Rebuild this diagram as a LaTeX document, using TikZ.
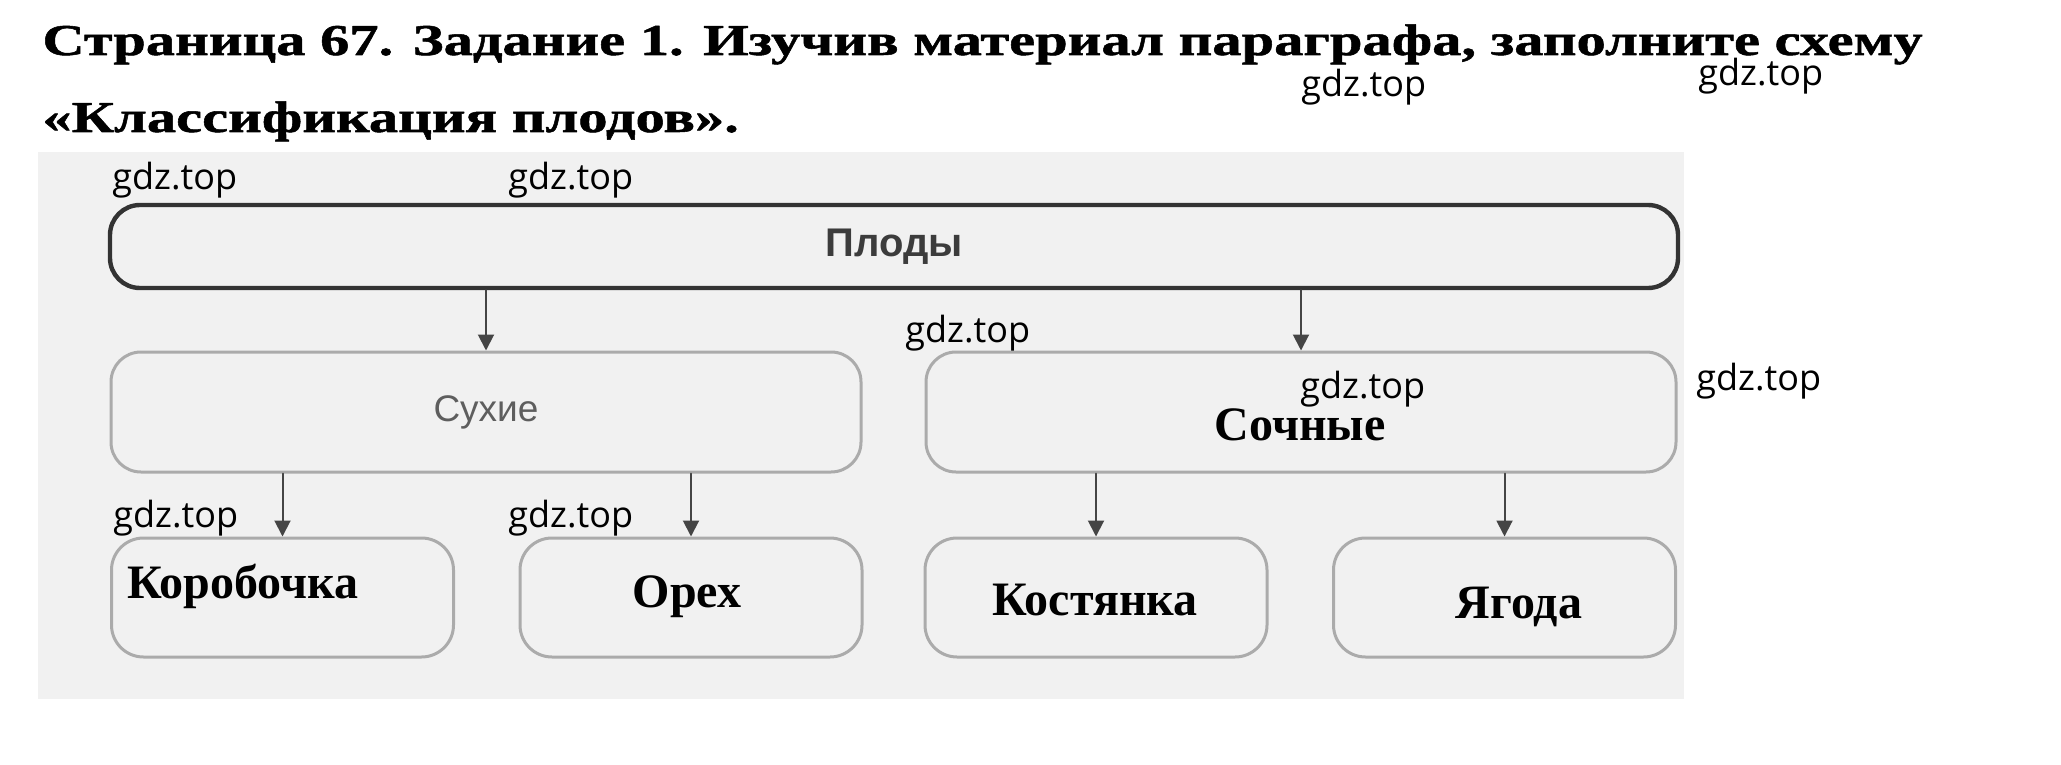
\documentclass[tikz,border=0pt]{standalone}
\usepackage{fontspec}
\setmainfont{Liberation Serif}
\setsansfont{Liberation Sans}
\newfontfamily\titlefont[FakeStretch=1.33, FakeBold=1.2]{Liberation Serif}
\newfontfamily\wmfont{Open Sans}
\usetikzlibrary{arrows.meta}
\definecolor{panelgray}{HTML}{F1F1F1}
\definecolor{boxdark}{HTML}{333333}
\definecolor{boxlight}{HTML}{ABABAB}
\definecolor{arrowgray}{HTML}{454545}
\definecolor{printdark}{HTML}{3C3C3C}
\definecolor{printlight}{HTML}{5E5E5E}

\begin{document}
\begin{tikzpicture}[x=0.5pt, y=-0.5pt, line cap=round, line join=round, >={Triangle[length=8pt,width=8pt]}]
		\tikzset{mainbox/.style={draw=boxdark, line width=2.2pt, rounded corners=15pt, minimum width=784pt, minimum height=41.5pt, inner sep=0pt},
			sortbox/.style={draw=boxlight, line width=1.5pt, rounded corners=15pt, minimum width=375pt, minimum height=60pt, inner sep=0pt},
			kindbox/.style={draw=boxlight, line width=1.5pt, rounded corners=16pt, minimum width=171pt, minimum height=59.5pt, inner sep=0pt},
			answer/.style={font=\bfseries\fontsize{24}{28}\selectfont, inner sep=0pt, anchor=base},
			titletext/.style={font=\titlefont\bfseries\fontsize{22}{26}\selectfont, inner sep=0pt, anchor=base west},
			wm/.style={font=\wmfont\fontsize{18}{20}\selectfont, inner sep=0pt, anchor=base west},
			arr/.style={->, draw=arrowgray, line width=1pt}}
		\useasboundingbox (0,0) rectangle (2061,765);
		\fill[panelgray] (38,152) rectangle (1684,699);
		% title
		\node[titletext] (title1) at (42,55) {Страница 67. Задание 1. Изучив материал параграфа, заполните схему};
		\node[titletext] (title2) at (42,132) {«Классификация плодов».};
		% boxes
		\node[mainbox, font=\sffamily\bfseries\fontsize{20}{24}\selectfont, text=printdark] (plody) at (894,246.5) {Плоды};
		\node[sortbox, font=\sffamily\fontsize{18.5}{22}\selectfont, text=printlight] (suhie) at (486,412) {Сухие};
		\node[sortbox] (sochnye) at (1301,412) {};
		\node[kindbox] (korob) at (282.5,597.5) {};
		\node[kindbox] (oreh) at (691,597.5) {};
		\node[kindbox] (kost) at (1096,597.5) {};
		\node[kindbox] (yagoda) at (1504.5,597.5) {};
		\draw[arr] (plody.south -| suhie.north) -- (suhie.north);
		\draw[arr] (plody.south -| sochnye.north) -- (sochnye.north);
		\draw[arr] (suhie.south -| korob.north) -- (korob.north);
		\draw[arr] (suhie.south -| oreh.north) -- (oreh.north);
		\draw[arr] (sochnye.south -| kost.north) -- (kost.north);
		\draw[arr] (sochnye.south -| yagoda.north) -- (yagoda.north);
		% answers
		\node[answer] (sochnyeText) at (1300,440) {Сочные};
		\node[answer, anchor=base west] (korobText) at (127,598) {Коробочка};
		\node[answer] (orehText) at (687,607) {Орех};
		\node[answer] (kostText) at (1095,615) {Костянка};
		\node[answer] (yagodaText) at (1519,618) {Ягода};
		% watermarks
		\foreach \wx/\wy [count=\i] in {1301/97, 1698/86, 112/190, 508/190, 905/342, 1300/398, 1696/390, 113/527, 508/527}
			\node[wm] (wm\i) at (\wx,\wy) {gdz.top};
	\end{tikzpicture}
\end{document}
